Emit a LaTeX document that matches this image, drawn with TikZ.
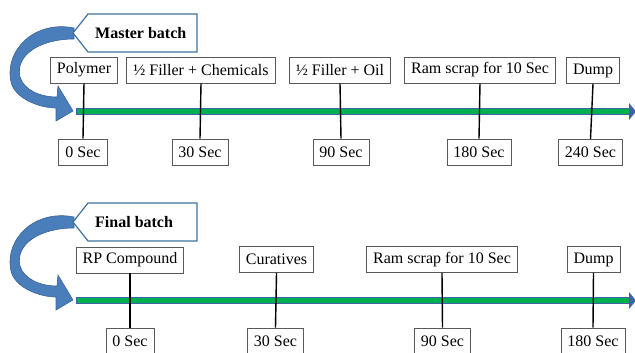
\documentclass[tikz,border=0pt]{standalone}
\usepackage{fontspec}
\setmainfont{Liberation Serif}
\newcommand\fsz{\fontsize{16}{19}\selectfont}
\definecolor{boxgray}{HTML}{595959}
\definecolor{calblue}{HTML}{41719C}
\definecolor{arrblue}{HTML}{4A7EBB}
\definecolor{arrdark}{HTML}{3A6496}
\definecolor{lgreen}{HTML}{00B050}
\definecolor{lblue}{HTML}{3F62A8}
\tikzset{
  box/.style={draw=boxgray, fill=white, line width=0.9pt, minimum height=26pt, inner xsep=6.5pt, inner ysep=0pt, font=\fsz},
  vline/.style={draw=black, line width=1.4pt},
  callout/.style={draw=calblue, fill=white, line width=1.2pt, line join=miter},
  curvearrow/.style={fill=arrblue, draw=arrdark, line width=0.6pt},
}
\begin{document}
\begin{tikzpicture}[x=1pt,y=-1pt]
\useasboundingbox (0,0) rectangle (635,353);
\begin{scope}
\clip (0,0) rectangle (635,353);
\foreach \dy/\lbl in {0/Master batch,189/Final batch}{
  \begin{scope}[yshift=-\dy pt]
  % curved arrow
  \path[curvearrow] (74,28) .. controls (35,20) and (4,50) .. (11,82)
     .. controls (15,99) and (40,108) .. (56,108)
     -- (56,121) -- (73,111) -- (58,86) -- (57,97)
     .. controls (40,97) and (24,90) .. (20,77)
     .. controls (15,55) and (40,39) .. (74,39) -- cycle;
  % callout
  \path[callout] (73,33) -- (88,14) -- (197,14) -- (197,52) -- (88,52) -- cycle;
  \node[font=\fsz\bfseries, anchor=west, inner sep=0pt] at (95,33.5) {\lbl};
  % main arrow
  \draw[line width=7pt, lblue] (76,111.5) -- (630,111.5);
  \draw[line width=4.4pt, lgreen] (77.2,111.5) -- (630,111.5);
  \fill[lblue] (629,103) -- (636,111.5) -- (629,120) -- cycle;
  \end{scope}
}
\end{scope}

% ---------- Master batch ----------
\node[box] (m1) at (84,70) {Polymer};
\node[box] (m2) at (201,70) {½ Filler + Chemicals};
\node[box] (m3) at (340,70) {½ Filler + Oil};
\node[box] (m4) at (480,70) {Ram scrap for 10 Sec};
\node[box] (m5) at (593,70.5) {Dump};
\node[box] (t1) at (83,152) {0 Sec};
\node[box] (t2) at (200,152) {30 Sec};
\node[box] (t3) at (341,152) {90 Sec};
\node[box] (t4) at (479,152) {180 Sec};
\node[box] (t5) at (590.5,152.5) {240 Sec};
\foreach \i in {1,...,5}{\draw[vline] (m\i.south) -- (t\i.north);}

% ---------- Final batch ----------
\node[box] (f1) at (130,260) {RP Compound};
\node[box] (f2) at (276.5,259.5) {Curatives};
\node[box] (f3) at (442,259.5) {Ram scrap for 10 Sec};
\node[box] (f4) at (593.5,259.5) {Dump};
\node[box] (g1) at (130,341) {0 Sec};
\node[box] (g2) at (275.5,341) {30 Sec};
\node[box] (g3) at (442.5,341) {90 Sec};
\node[box] (g4) at (593,341) {180 Sec};
\foreach \i in {1,...,4}{\draw[vline] (f\i.south) -- (g\i.north);}
\end{tikzpicture}
\end{document}
